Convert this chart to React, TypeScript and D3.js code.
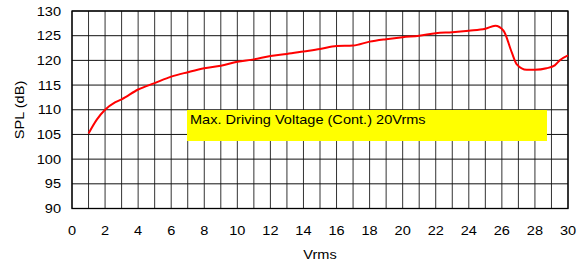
import { useEffect, useRef } from 'react'
import * as d3 from 'd3'

// SPL vs driving voltage
const vrms = [1, 1.5, 2, 2.6, 3, 4, 5, 6, 7, 8, 9, 10, 11, 12, 13, 14, 15, 16, 17, 18, 19, 20, 21, 22, 23, 24, 25, 25.6, 26.1, 26.6, 26.9, 27.5, 28, 28.7, 29.2, 29.5, 30]
const spl = [105.2, 108.0, 110, 111.5, 112.1, 114.1, 115.4, 116.7, 117.6, 118.4, 118.9, 119.7, 120.2, 120.9, 121.3, 121.8, 122.3, 122.9, 123.0, 123.8, 124.3, 124.7, 125.0, 125.5, 125.7, 126.0, 126.4, 127.0, 126.0, 121.6, 119.2, 118.1, 118.1, 118.4, 119.0, 120.0, 121.0]

const xTicks = d3.range(0, 31, 2)
const yTicks = d3.range(90, 131, 5)
const xGrid = d3.range(0, 31, 1)
const noteText = 'Max. Driving Voltage (Cont.) 20Vrms'

export default function App() {
  const svgRef = useRef<SVGSVGElement>(null)

  useEffect(() => {
    if (!svgRef.current) return
    const W = 585, H = 263
    const left = 72, right = 568, top = 11, bottom = 208.5
    const sx = 1.12 // the original text is a little wider than Arial

    const svg = d3.select(svgRef.current)
    svg.selectAll('*').remove()
    svg.attr('width', W).attr('height', H)

    const x = d3.scaleLinear().domain([0, 30]).range([left, right])
    const y = d3.scaleLinear().domain([90, 130]).range([bottom, top])

    const font = "'Liberation Sans', Arial, sans-serif"
    const at = (px: number, py: number, rot = 0) =>
      `translate(${px},${py})${rot ? ` rotate(${rot})` : ''} scale(${sx},1)`

    // grid
    svg.append('g')
      .selectAll('line')
      .data(xGrid)
      .join('line')
      .attr('x1', d => x(d)).attr('x2', d => x(d))
      .attr('y1', top).attr('y2', bottom)
      .attr('stroke', '#333')
      .attr('stroke-width', 1)

    svg.append('g')
      .selectAll('line')
      .data(yTicks)
      .join('line')
      .attr('x1', left).attr('x2', right)
      .attr('y1', d => y(d)).attr('y2', d => y(d))
      .attr('stroke', '#111')
      .attr('stroke-width', 1)

    // frame
    svg.append('rect')
      .attr('x', left).attr('y', top)
      .attr('width', right - left).attr('height', bottom - top)
      .attr('fill', 'none')
      .attr('stroke', '#000')
      .attr('stroke-width', 1.3)

    // note box
    svg.append('rect')
      .attr('x', 187).attr('y', 110)
      .attr('width', 360).attr('height', 31)
      .attr('fill', '#ffff00')
    svg.append('text')
      .attr('transform', at(190, 124))
      .attr('font-family', font)
      .attr('font-size', 13)
      .attr('fill', '#000')
      .text(noteText)

    // curve
    const line = d3.line<number>()
      .x((_, i) => x(vrms[i]))
      .y(d => y(d))
      .curve(d3.curveMonotoneX)
    svg.append('path')
      .datum(spl)
      .attr('d', line)
      .attr('fill', 'none')
      .attr('stroke', '#ff0000')
      .attr('stroke-width', 2)

    // tick labels
    svg.append('g')
      .selectAll('text')
      .data(xTicks)
      .join('text')
      .attr('transform', d => at(x(d), 234.5))
      .attr('text-anchor', 'middle')
      .attr('font-family', font)
      .attr('font-size', 13)
      .text(d => d)

    svg.append('g')
      .selectAll('text')
      .data(yTicks)
      .join('text')
      .attr('transform', d => at(61, y(d) + 4.5))
      .attr('text-anchor', 'end')
      .attr('font-family', font)
      .attr('font-size', 13)
      .text(d => d)

    svg.append('text')
      .attr('transform', at(320, 259))
      .attr('text-anchor', 'middle')
      .attr('font-family', font)
      .attr('font-size', 13)
      .text('Vrms')

    svg.append('text')
      .attr('transform', at(24, 110, -90))
      .attr('text-anchor', 'middle')
      .attr('font-family', font)
      .attr('font-size', 13)
      .text('SPL (dB)')
  }, [])

  return (
    <svg ref={svgRef} style={{ position: 'absolute', left: 0, top: 0, display: 'block' }} />
  )
}
